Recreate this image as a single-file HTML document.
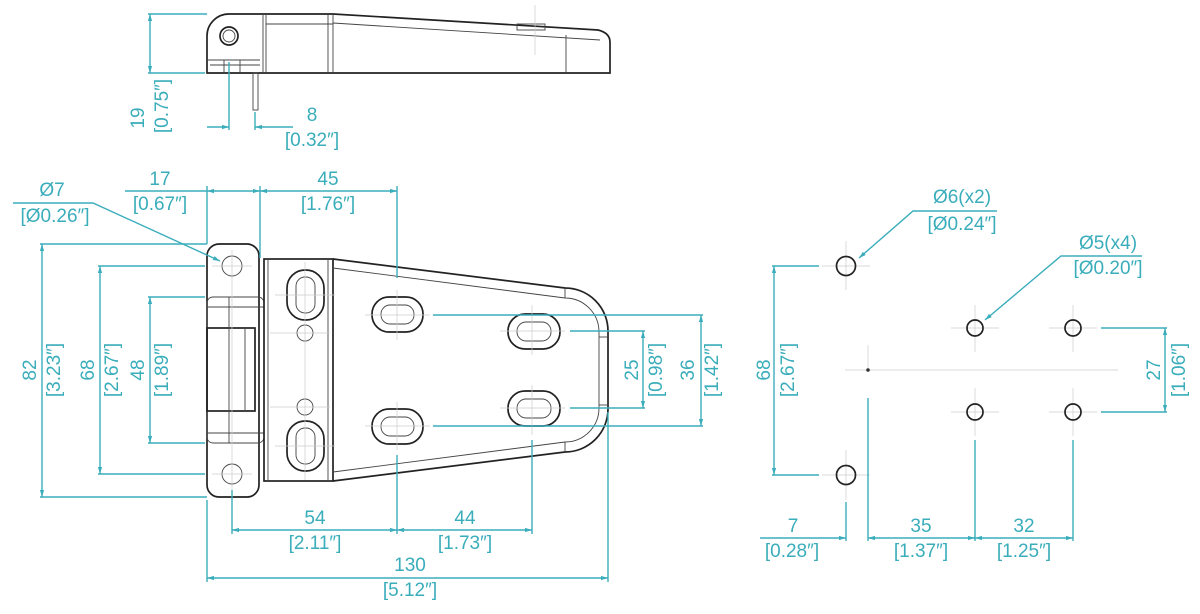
<!DOCTYPE html>
<html><head><meta charset="utf-8"><style>
html,body{margin:0;padding:0;background:#fff}
svg{display:block}
text{font-family:"Liberation Sans","DejaVu Sans",sans-serif;font-size:19px;fill:#3aadbb;text-anchor:middle}
.d{stroke:#3aadbb;stroke-width:1.4;fill:none}
.k{stroke:#222;stroke-width:1.7;fill:none}
.t{stroke:#444;stroke-width:0.9;fill:none}
.c{stroke:#ccc;stroke-width:0.7;fill:none}
</style></head><body>
<svg width="1200" height="614" viewBox="0 0 1200 614" xmlns="http://www.w3.org/2000/svg">
<defs>
<marker id="a" viewBox="0 0 10 10" refX="10" refY="5" markerWidth="9" markerHeight="7" orient="auto-start-reverse" markerUnits="userSpaceOnUse"><path d="M0,2 L10,5 L0,8z" fill="#3aadbb"/></marker>
</defs>

<!-- ===== TOP VIEW ===== -->
<g>
<path class="k" d="M207,73 L207,36 A22,22 0 0 1 229,14 L333,14 L598,30 Q610,33 610,42 L610,73 Z"/>
<line class="t" x1="263" y1="14" x2="263" y2="73"/>
<line class="t" x1="266" y1="14" x2="266" y2="73"/>
<line class="t" x1="328" y1="14" x2="328" y2="73"/>
<line class="t" x1="333" y1="14" x2="333" y2="73"/>
<line class="t" x1="566" y1="35" x2="566" y2="73"/>
<path class="t" d="M333,23 L600,40"/>
<path class="t" d="M266,24 L333,24"/>
<rect class="t" x="517" y="24" width="28" height="6"/>
<circle class="k" cx="229" cy="36" r="9"/>
<circle class="t" cx="229" cy="36" r="6"/>
<path class="t" d="M207,60 L260,60 M210,65 L260,65 M224,60 L224,73 M240,60 L240,73"/>
<rect class="t" x="253" y="73" width="5" height="37"/>
<line class="c" x1="535" y1="5" x2="535" y2="55"/>
</g>
<!-- top dims -->
<line class="d" x1="148" y1="14" x2="207" y2="14"/>
<line class="d" x1="148" y1="73" x2="205" y2="73"/>
<line class="d" x1="150" y1="14" x2="150" y2="73" marker-start="url(#a)" marker-end="url(#a)"/>
<text transform="translate(144,118) rotate(-90)">19</text>
<text transform="translate(168,106) rotate(-90)">[0.75″]</text>
<line class="d" x1="229" y1="62" x2="229" y2="130"/>
<line class="d" x1="255" y1="112" x2="255" y2="130"/>
<line class="d" x1="207" y1="127" x2="229" y2="127" marker-end="url(#a)"/>
<line class="d" x1="293" y1="127" x2="255" y2="127" marker-end="url(#a)"/>
<text x="312" y="121">8</text>
<text x="312" y="146">[0.32″]</text>

<!-- ===== MAIN VIEW ===== -->
<g>
<rect class="k" x="207" y="244" width="52" height="253" rx="12"/>
<circle class="t" cx="232" cy="266" r="10"/>
<circle class="t" cx="232" cy="474" r="10"/>
<rect class="t" x="207" y="297" width="57" height="146" rx="6"/>
<line class="t" x1="207" y1="307" x2="264" y2="307"/>
<line class="t" x1="207" y1="433" x2="264" y2="433"/>
<rect class="k" x="207" y="328" width="48" height="83"/>
<line class="t" x1="245" y1="328" x2="245" y2="411"/>
<line class="t" x1="229" y1="297" x2="229" y2="443"/>
<rect class="k" x="264" y="259" width="69" height="222"/>
<line class="t" x1="268" y1="259" x2="268" y2="481"/>
<line class="t" x1="328" y1="259" x2="328" y2="481"/>
<rect class="k" x="287" y="270" width="37" height="50" rx="18"/>
<rect class="t" x="296" y="277" width="19" height="36" rx="9"/>
<rect class="k" x="287" y="421" width="37" height="50" rx="18"/>
<rect class="t" x="296" y="428" width="19" height="36" rx="9"/>
<circle class="t" cx="305" cy="333" r="8"/>
<circle class="t" cx="305" cy="407" r="8"/>
<path class="k" d="M333,259 L565,288 A43,43 0 0 1 608,331 L608,409 A43,43 0 0 1 565,452 L333,481"/>
<path class="t" d="M333,268 L565,298 A34,34 0 0 1 599,332 L599,408 A34,34 0 0 1 565,442 L333,472"/>
<line class="t" x1="565" y1="288" x2="565" y2="298"/>
<line class="t" x1="565" y1="442" x2="565" y2="452"/>
<line class="t" x1="599" y1="337" x2="608" y2="337"/>
<line class="t" x1="599" y1="405" x2="608" y2="405"/>
<rect class="k" x="372" y="297" width="51" height="35" rx="17"/>
<rect class="t" x="381" y="305" width="33" height="19" rx="9"/>
<rect class="k" x="372" y="409" width="51" height="35" rx="17"/>
<rect class="t" x="381" y="417" width="33" height="19" rx="9"/>
<rect class="k" x="508" y="314" width="52" height="35" rx="17"/>
<rect class="t" x="517" y="322" width="34" height="19" rx="9"/>
<rect class="k" x="508" y="391" width="52" height="35" rx="17"/>
<rect class="t" x="517" y="399" width="34" height="19" rx="9"/>
<path class="c" d="M305,262 V480 M275,295 H335 M275,446 H335 M270,333 H330 M270,407 H330 M232,250 V490 M212,266 H252 M212,474 H252 M397,290 V340 M397,402 V450 M365,315 H430 M365,426 H430 M532,305 V355 M532,385 V435 M500,331 H565 M500,408 H565"/>
</g>

<!-- top -->
<line class="d" x1="207" y1="186" x2="207" y2="244"/>
<line class="d" x1="260" y1="186" x2="260" y2="258"/>
<line class="d" x1="397" y1="186" x2="397" y2="278"/>
<line class="d" x1="125" y1="191" x2="207" y2="191"/>
<line class="d" x1="207" y1="191" x2="260" y2="191" marker-start="url(#a)" marker-end="url(#a)"/>
<line class="d" x1="260" y1="191" x2="397" y2="191" marker-start="url(#a)" marker-end="url(#a)"/>
<text x="160" y="185">17</text>
<text x="160" y="210">[0.67″]</text>
<text x="328" y="185">45</text>
<text x="328" y="210">[1.76″]</text>
<polyline class="d" points="13,203 93,203 220,261" marker-end="url(#a)"/>
<text x="52" y="196">Ø7</text>
<text x="55" y="222">[Ø0.26″]</text>
<line class="d" x1="40" y1="244" x2="207" y2="244"/>
<line class="d" x1="40" y1="497" x2="207" y2="497"/>
<line class="d" x1="42" y1="244" x2="42" y2="497" marker-start="url(#a)" marker-end="url(#a)"/>
<text transform="translate(36,370) rotate(-90)">82</text>
<text transform="translate(60,370) rotate(-90)">[3.23″]</text>
<line class="d" x1="98" y1="266" x2="205" y2="266"/>
<line class="d" x1="98" y1="474" x2="205" y2="474"/>
<line class="d" x1="100" y1="266" x2="100" y2="474" marker-start="url(#a)" marker-end="url(#a)"/>
<text transform="translate(94,370) rotate(-90)">68</text>
<text transform="translate(118,370) rotate(-90)">[2.67″]</text>
<line class="d" x1="148" y1="297" x2="205" y2="297"/>
<line class="d" x1="148" y1="443" x2="205" y2="443"/>
<line class="d" x1="150" y1="297" x2="150" y2="443" marker-start="url(#a)" marker-end="url(#a)"/>
<text transform="translate(144,370) rotate(-90)">48</text>
<text transform="translate(168,370) rotate(-90)">[1.89″]</text>
<line class="d" x1="433" y1="315" x2="703" y2="315"/>
<line class="d" x1="433" y1="426" x2="703" y2="426"/>
<line class="d" x1="570" y1="331" x2="645" y2="331"/>
<line class="d" x1="570" y1="408" x2="645" y2="408"/>
<line class="d" x1="643" y1="331" x2="643" y2="408" marker-start="url(#a)" marker-end="url(#a)"/>
<text transform="translate(638,370) rotate(-90)">25</text>
<text transform="translate(662,370) rotate(-90)">[0.98″]</text>
<line class="d" x1="701" y1="315" x2="701" y2="426" marker-start="url(#a)" marker-end="url(#a)"/>
<text transform="translate(694,370) rotate(-90)">36</text>
<text transform="translate(718,370) rotate(-90)">[1.42″]</text>
<line class="d" x1="232" y1="490" x2="232" y2="534"/>
<line class="d" x1="397" y1="455" x2="397" y2="534"/>
<line class="d" x1="532" y1="440" x2="532" y2="534"/>
<line class="d" x1="207" y1="500" x2="207" y2="582"/>
<line class="d" x1="608" y1="412" x2="608" y2="582"/>
<line class="d" x1="232" y1="530" x2="397" y2="530" marker-start="url(#a)" marker-end="url(#a)"/>
<line class="d" x1="397" y1="530" x2="532" y2="530" marker-start="url(#a)" marker-end="url(#a)"/>
<text x="315" y="524">54</text>
<text x="315" y="549">[2.11″]</text>
<text x="465" y="524">44</text>
<text x="465" y="549">[1.73″]</text>
<line class="d" x1="207" y1="578" x2="608" y2="578" marker-start="url(#a)" marker-end="url(#a)"/>
<text x="410" y="571">130</text>
<text x="410" y="596">[5.12″]</text>

<!-- ===== HOLE PATTERN ===== -->
<g>
<path class="c" d="M846,241 V290 M822,266 H870 M846,450 V500 M822,475 H870 M975,305 V352 M951,328 H999 M1073,305 V352 M1049,328 H1097 M975,388 V436 M951,412 H999 M1073,388 V436 M1049,412 H1097 M845,370 H1118 M868,345 V370"/>
<circle class="k" cx="846" cy="266" r="9.5"/>
<circle class="k" cx="846" cy="475" r="9.5"/>
<circle class="k" cx="975" cy="328" r="8"/>
<circle class="k" cx="1073" cy="328" r="8"/>
<circle class="k" cx="975" cy="412" r="8"/>
<circle class="k" cx="1073" cy="412" r="8"/>
<circle cx="868" cy="370" r="1.8" fill="#333"/>
</g>
<polyline class="d" points="997,211 913,211 859,258" marker-end="url(#a)"/>
<text x="962" y="203">Ø6(x2)</text>
<text x="962" y="230">[Ø0.24″]</text>
<polyline class="d" points="1142,256 1061,256 985,320" marker-end="url(#a)"/>
<text x="1108" y="249">Ø5(x4)</text>
<text x="1108" y="274">[Ø0.20″]</text>
<line class="d" x1="772" y1="266" x2="819" y2="266"/>
<line class="d" x1="772" y1="475" x2="819" y2="475"/>
<line class="d" x1="774" y1="266" x2="774" y2="475" marker-start="url(#a)" marker-end="url(#a)"/>
<text transform="translate(770,370) rotate(-90)">68</text>
<text transform="translate(794,370) rotate(-90)">[2.67″]</text>
<line class="d" x1="1101" y1="328" x2="1167" y2="328"/>
<line class="d" x1="1101" y1="412" x2="1167" y2="412"/>
<line class="d" x1="1165" y1="328" x2="1165" y2="412" marker-start="url(#a)" marker-end="url(#a)"/>
<text transform="translate(1160,370) rotate(-90)">27</text>
<text transform="translate(1185,370) rotate(-90)">[1.06″]</text>
<line class="d" x1="846" y1="502" x2="846" y2="541"/>
<line class="d" x1="868" y1="398" x2="868" y2="541"/>
<line class="d" x1="975" y1="440" x2="975" y2="541"/>
<line class="d" x1="1073" y1="440" x2="1073" y2="541"/>
<line class="d" x1="760" y1="538" x2="846" y2="538" marker-end="url(#a)"/>
<line class="d" x1="868" y1="538" x2="975" y2="538" marker-start="url(#a)" marker-end="url(#a)"/>
<line class="d" x1="975" y1="538" x2="1073" y2="538" marker-start="url(#a)" marker-end="url(#a)"/>
<text x="793" y="532">7</text>
<text x="792" y="557">[0.28″]</text>
<text x="921" y="532">35</text>
<text x="921" y="557">[1.37″]</text>
<text x="1024" y="532">32</text>
<text x="1024" y="557">[1.25″]</text>
</svg>
</body></html>
